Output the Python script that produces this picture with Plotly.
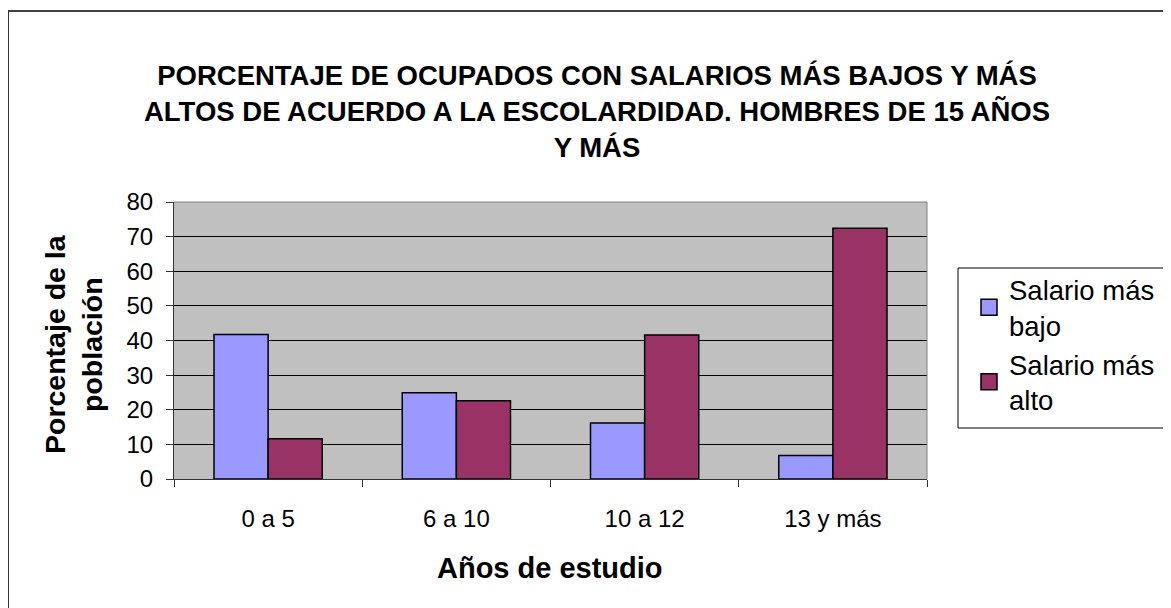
import plotly.graph_objects as go

categories = ["0 a 5", "6 a 10", "10 a 12", "13 y más"]
salario_bajo = [41.7, 24.9, 16.2, 6.8]
salario_alto = [11.6, 22.6, 41.6, 72.4]
series_names = ["Salario más<br>bajo", "Salario más<br>alto"]
series_colors = ["#9999FF", "#993366"]
title_text = ("PORCENTAJE DE OCUPADOS CON SALARIOS MÁS BAJOS Y MÁS<br>"
              "ALTOS DE ACUERDO A LA ESCOLARDIDAD. HOMBRES DE 15 AÑOS<br>"
              "Y MÁS")
x_title = "Años de estudio"
y_title = "Porcentaje de la<br>población"

W, H = 1171, 608
OFF = 8  # page body margin: figure starts at (8, 8) in the window
# plot area in window pixels
VL, VR, VT, VB = 174, 927, 202, 479
L, R, T, B = VL - OFF, VR - OFF, VT - OFF, VB - OFF


def px(x):  # window x -> paper
    return (x - OFF - L) / (R - L)


def py(y):  # window y -> paper
    return (B - (y - OFF)) / (B - T)


FONT = "Arial, Liberation Sans, sans-serif"

fig = go.Figure()
for vals, name, col in zip([salario_bajo, salario_alto], series_names, series_colors):
    fig.add_trace(go.Bar(x=categories, y=vals, name=name, showlegend=False,
                         marker=dict(color=col, line=dict(color="black", width=1.5))))
for name, col in zip(series_names, series_colors):
    fig.add_trace(go.Scatter(x=[None], y=[None], name=name, mode="markers",
                             marker=dict(symbol="square", size=16, color=col,
                                         line=dict(color="black", width=1.5))))

fig.update_layout(
    width=W, height=H, autosize=False,
    margin=dict(l=L, r=W - R, t=T, b=H - B, pad=0),
    paper_bgcolor="white", plot_bgcolor="#C0C0C0",
    barmode="group", bargap=0.425, bargroupgap=0,
    font=dict(family=FONT, color="black", size=24),
    showlegend=True,
    legend=dict(x=px(969), y=py(265), xanchor="left", yanchor="top",
                bgcolor="rgba(0,0,0,0)", borderwidth=0,
                font=dict(family=FONT, size=27.5, color="black"),
                tracegroupgap=2),
)
fig.update_xaxes(type="category", tickson="boundaries", ticks="outside", ticklen=7,
                 tickcolor="#333333", showline=True, linecolor="#333333", linewidth=1,
                 showgrid=False, tickfont=dict(size=24), ticklabelstandoff=18)
fig.update_yaxes(range=[0, 80], dtick=10, ticks="outside", ticklen=7, tickcolor="#333333",
                 showline=True, linecolor="#333333", linewidth=1,
                 showgrid=True, gridcolor="black", gridwidth=1, zeroline=False,
                 tickfont=dict(size=24), ticklabelstandoff=8)

shapes = [
    dict(type="line", xref="paper", yref="paper", x0=0, x1=1, y0=1, y1=1,
         line=dict(color="#808080", width=1)),
    dict(type="line", xref="paper", yref="paper", x0=1, x1=1, y0=0, y1=1,
         line=dict(color="#808080", width=1)),
    dict(type="rect", xref="paper", yref="paper", x0=px(958), x1=px(1168), y0=py(428), y1=py(268),
         line=dict(color="black", width=1)),
    dict(type="line", xref="paper", yref="paper", x0=px(8), x1=px(1200), y0=py(11), y1=py(11),
         line=dict(color="black", width=1.5)),
    dict(type="line", xref="paper", yref="paper", x0=px(8), x1=px(8), y0=py(11), y1=py(640),
         line=dict(color="#333333", width=2)),
]
fig.update_layout(shapes=shapes)

annotations = [
    dict(text="<b>" + title_text + "</b>", xref="paper", yref="paper", x=px(597), y=py(111),
         xanchor="center", yanchor="middle", showarrow=False, align="center",
         font=dict(family=FONT, size=27.5, color="black")),
    dict(text="<b>" + x_title + "</b>", xref="paper", yref="paper", x=px(550), y=py(568),
         xanchor="center", yanchor="middle", showarrow=False,
         font=dict(family=FONT, size=29, color="black")),
    dict(text="<b>" + y_title + "</b>", xref="paper", yref="paper", x=px(73), y=py(344),
         xanchor="center", yanchor="middle", showarrow=False, textangle=-90, align="center",
         font=dict(family=FONT, size=28.5, color="black")),
]
fig.update_layout(annotations=annotations)

fig.write_html("out.html")
